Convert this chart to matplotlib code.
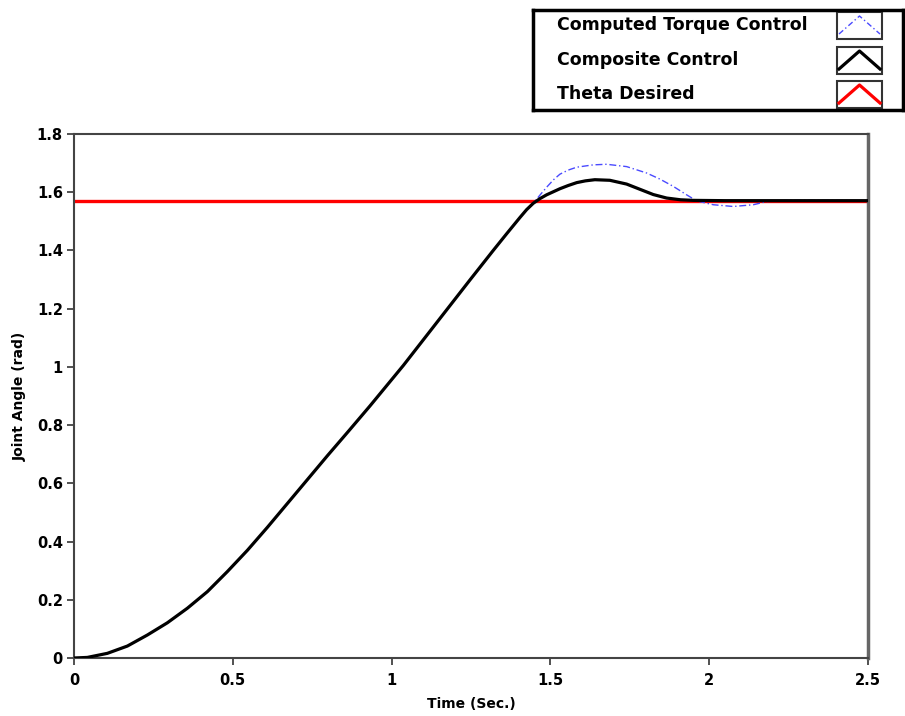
import numpy as np
import matplotlib.pyplot as plt
from matplotlib.patches import Rectangle

# Datos
t_comun = [0.0, 0.042, 0.105, 0.168, 0.231, 0.294, 0.357, 0.42, 0.483, 0.546,
           0.609, 0.672, 0.735, 0.798, 0.865, 0.932, 1.037, 1.142, 1.247, 1.32,
           1.362, 1.404, 1.425, 1.446]
theta_comun = [0.0, 0.002, 0.016, 0.041, 0.079, 0.121, 0.171, 0.228, 0.297, 0.370,
               0.449, 0.531, 0.613, 0.695, 0.780, 0.866, 1.005, 1.152, 1.299, 1.400,
               1.457, 1.513, 1.540, 1.562]

t_comp = t_comun + [1.467, 1.488, 1.51, 1.53, 1.556, 1.583, 1.61, 1.64, 1.687, 1.74,
                    1.782, 1.824, 1.866, 1.91, 1.95, 2.05, 2.5]
theta_comp = theta_comun + [1.578, 1.591, 1.602, 1.612, 1.623, 1.633, 1.639, 1.643,
                            1.641, 1.628, 1.610, 1.592, 1.580, 1.574, 1.572, 1.571, 1.571]

t_ctc = t_comun + [1.467, 1.488, 1.51, 1.53, 1.556, 1.583, 1.635, 1.677, 1.74, 1.803,
                   1.845, 1.887, 1.929, 1.961, 2.013, 2.076, 2.139, 2.181, 2.25, 2.5]
theta_ctc = theta_comun + [1.590, 1.617, 1.643, 1.662, 1.676, 1.686, 1.694, 1.696, 1.688,
                           1.666, 1.645, 1.620, 1.591, 1.570, 1.557, 1.551, 1.557, 1.568,
                           1.572, 1.571]

t_des = [0.0, 2.5]
theta_des = [np.pi / 2, np.pi / 2]

etiquetas = ["Computed Torque Control", "Composite Control", "Theta Desired"]

fig = plt.figure(figsize=(9.05, 7.16), dpi=100)
ax = fig.add_axes([74 / 905, 58 / 716, 794 / 905, 524 / 716])

ax.plot(t_des, theta_des, color="#ff0000", lw=2.4, zorder=2)
ax.plot(t_ctc, theta_ctc, color="#4a4aff", lw=1.0, ls=(0, (5, 2, 1, 2)), zorder=3)
ax.plot(t_comp, theta_comp, color="black", lw=2.3, zorder=4)

ax.set_xlim(0, 2.5)
ax.set_ylim(0, 1.8)
ax.set_xticks([0, 0.5, 1, 1.5, 2, 2.5])
ax.set_xticklabels(["0", "0.5", "1", "1.5", "2", "2.5"])
ax.set_yticks([0, 0.2, 0.4, 0.6, 0.8, 1, 1.2, 1.4, 1.6, 1.8])
ax.set_yticklabels(["0", "0.2", "0.4", "0.6", "0.8", "1", "1.2", "1.4", "1.6", "1.8"])
for lab in ax.get_xticklabels() + ax.get_yticklabels():
    lab.set_fontweight("bold")
ax.tick_params(direction="out", length=5, width=1.2, labelsize=10.5, color="#333333")
ax.tick_params(axis="x", pad=6)
ax.tick_params(axis="y", pad=3)

for s in ["left", "bottom", "top"]:
    ax.spines[s].set_color("#444444")
    ax.spines[s].set_linewidth(1.5)
ax.spines["right"].set_color("#666666")
ax.spines["right"].set_linewidth(2.5)

ax.set_xlabel("Time (Sec.)", fontsize=10, fontweight="bold", labelpad=6)
ax.set_ylabel("Joint Angle (rad)", fontsize=10, fontweight="bold", labelpad=7)

# Leyenda estilo LabVIEW
lg = fig.add_axes([533 / 905, 1 - 110 / 716, 370 / 905, 100 / 716])
lg.set_xlim(0, 370)
lg.set_ylim(100, 0)
lg.set_xticks([])
lg.set_yticks([])
for s in lg.spines.values():
    s.set_linewidth(2.5)
    s.set_color("black")

filas = [15, 50, 84]
estilos = [dict(color="#4a4aff", lw=1.0, ls=(0, (4, 2, 1, 2))),
           dict(color="black", lw=2.3),
           dict(color="#ff0000", lw=2.3)]
for y, txt, st in zip(filas, etiquetas, estilos):
    lg.text(24, y, txt, fontsize=12.5, fontweight="bold", va="center", ha="left")
    lg.add_patch(Rectangle((304, y - 13), 45, 27, fill=False, ec="#333333", lw=1.5))
    lg.plot([306, 326.5, 347], [y + 9, y - 9, y + 9], **st)

fig.savefig("out.png", dpi=100)
